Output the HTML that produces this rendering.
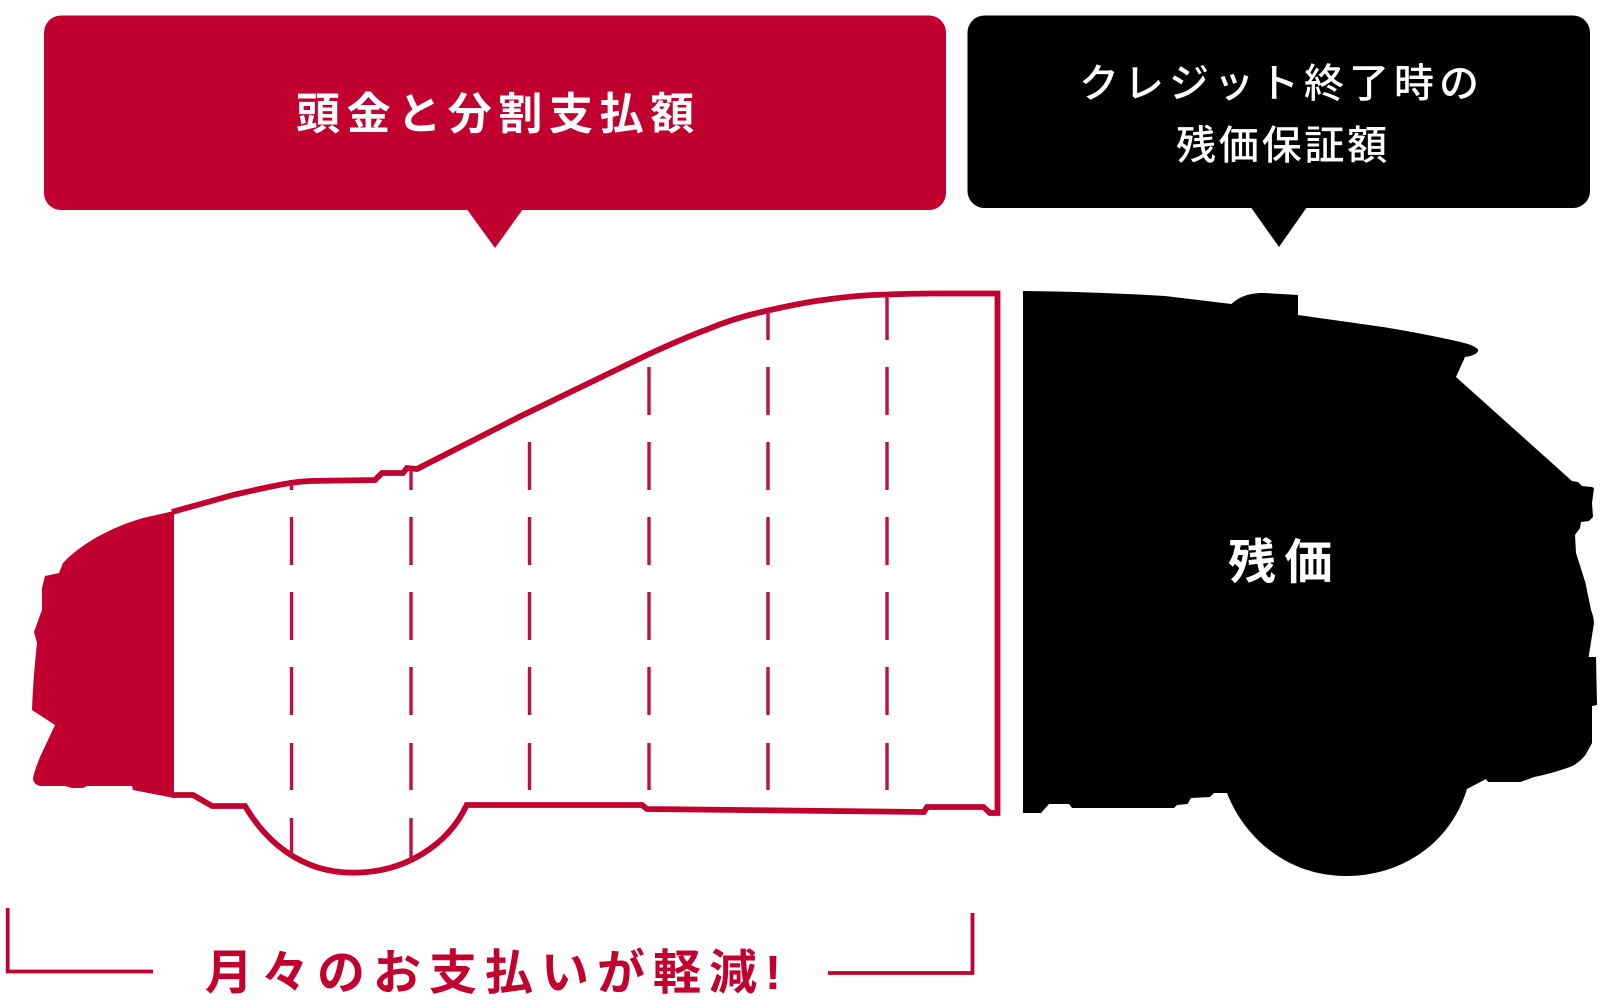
<!DOCTYPE html>
<html lang="ja"><head><meta charset="utf-8"><style>
html,body{margin:0;padding:0;background:#fff}
svg{display:block}
text{font-family:"Liberation Sans","Noto Sans CJK JP",sans-serif}
</style></head><body>
<svg xmlns="http://www.w3.org/2000/svg" width="1600" height="1000" viewBox="0 0 1600 1000">
<rect width="1600" height="1000" fill="#fff"/>
<!-- callouts -->
<rect x="44" y="15.5" width="902" height="194.5" rx="17" fill="#c1002f"/>
<polygon points="466.7,209 523,209 495,248" fill="#c1002f"/>
<rect x="967.5" y="15.5" width="622.5" height="192.5" rx="17" fill="#000"/>
<polygon points="1250.7,207 1307,207 1279,247" fill="#000"/>
<text x="296" y="129" font-size="44" font-weight="700" letter-spacing="6.6" fill="#fff">頭金と分割支払額</text>
<text x="1079" y="97" font-size="40" font-weight="500" letter-spacing="5" fill="#fff">クレジット終了時の</text>
<text x="1176" y="159" font-size="40" font-weight="500" letter-spacing="2.8" fill="#fff">残価保証額</text>
<!-- red front solid -->
<path d="M174,511 L143,518 C112,527 82,543 63,563 L59,573 L45,576 L42,588 L42,610 L39,618 L34,632 L37,643 Q33,680 32,710 L55,725 L40,757 Q34,772 33,778 Q33,784 40,786 L50,786 L65,786 L72,788 L83,788 L87,786 L132,786 L133,790 L174,798 Z" fill="#c1002f"/>
<!-- red outline -->
<path d="M172,512 L233,495 C255,490 272,486 290,483 Q300,481.5 310,481 L375,480 L382,473 L403,473 L407,468 L417,469 L520,416.5 L648,354.5 C670,344.5 690,335.5 707,329.5 Q735,317.5 768,310.5 C790,305.5 810,301.5 827,299.5 Q858,295 887,294.5 Q910,293.5 933,293.5 L997.5,293.5 L997.5,813 L990,813 L983.5,807 L927,807 L924,812 L647,809 L642,805 L466.7,805 C448,845 405,872.7 353,872.7 C300,872.7 265,840 245,806 L212,806 L193,795 L172,795" fill="none" stroke="#c1002f" stroke-width="5.8"/>
<!-- dashed dividers -->
<g stroke="#c0103f" stroke-width="3.4" fill="none">
<path d="M291.5 483V490M291.5 517V565M291.5 592V640M291.5 667V715M291.5 743V790M291.5 818V857"/>
<path d="M411 470V490M411 517V565M411 592V640M411 667V715M411 743V790M411 818V860"/>
<path d="M529.5 442V490M529.5 517V565M529.5 592V640M529.5 667V715M529.5 743V790"/>
<path d="M649 367V415M649 442V490M649 517V565M649 592V640M649 667V715M649 743V790"/>
<path d="M768 311V340M768 367V415M768 442V490M768 517V565M768 592V640M768 667V715M768 743V790"/>
<path d="M887 296V340M887 367V415M887 442V490M887 517V565M887 592V640M887 667V715M887 743V790"/>
</g>
<!-- black rear -->
<path d="M1023,291 Q1100,292 1165,296 L1231.5,304 C1240,296 1250,293 1264,293 L1298,295 L1298,315 L1383,327 Q1420,333 1451.6,340 Q1470,344 1473,346 Q1479,349 1478,351 Q1477,355 1465,357 L1456,377 L1572,481 L1578,482 L1582,486 L1592,487 L1594,488 L1592,503 L1593,517 L1589,521 L1581,522 L1580,528 L1575,535 L1576,553 L1585.5,583 L1591,610 Q1594,618 1594,623 L1588.6,657 L1596,657 L1597,705 L1592,706 L1592,743 L1585.5,755 Q1578,764 1570,767 Q1550,774 1534,777 L1520.5,782 L1488,782 L1486,779 L1467,789 C1450,845 1400,876 1346,876 C1285,876 1243,835 1227,793 L1214,793 L1210,797 L1191,798 L1187.5,804 L1177,805 L1174,808 L1072,808 L1069,804 L1049,804 L1041,813 L1023,813 Z" fill="#000"/>
<text x="1228" y="578.5" font-size="48" font-weight="700" letter-spacing="8.5" fill="#fff">残価</text>
<!-- bottom bracket -->
<path d="M7.7 908V971.5H153" fill="none" stroke="#c1002f" stroke-width="3.8"/>
<path d="M828 973H972.5V913" fill="none" stroke="#c1002f" stroke-width="3.8"/>
<text x="205" y="989" font-size="48" font-weight="700" letter-spacing="8" fill="#c1002f">月々のお支払いが軽減!</text>
</svg>
</body></html>
